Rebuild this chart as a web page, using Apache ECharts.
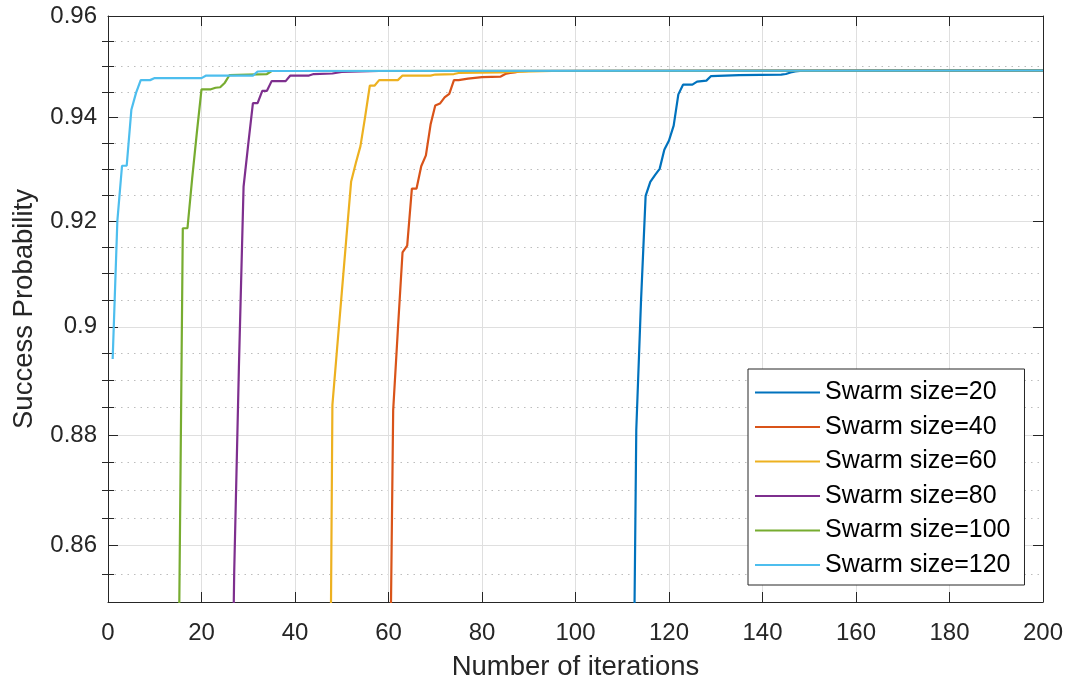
<!DOCTYPE html>
<html><head><meta charset="utf-8">
<script src="https://cdn.jsdelivr.net/npm/echarts@6/dist/echarts.min.js"></script>
<style>html,body{margin:0;padding:0;background:#fff}#c{width:1070px;height:685px}</style>
</head><body><div id="c"></div>
<script>
const seriesNames = ['Swarm size=20','Swarm size=40','Swarm size=60','Swarm size=80','Swarm size=100','Swarm size=120'];
const seriesColors = ['#0072BD','#D95319','#EDB120','#7E2F8E','#77AC30','#4DBEEE'];

const iter20 = [112,113,114,115,116,117,118,119,120,121,122,123,125,126,127,128,129,135,144,145,146,147,148,200];
const prob20 = [0.799,0.8809,0.9045,0.9248,0.9275,0.9288,0.9300,0.9337,0.9355,0.9384,0.9445,0.9464,0.9464,0.9470,0.9471,0.9472,0.9481,0.9483,0.9484,0.9485,0.9488,0.9490,0.9491,0.9492];

const iter40 = [60,61,62,63,64,65,66,67,68,69,70,71,72,73,74,75,77,80,84,85,86,87,88,90,200];
const prob40 = [0.812,0.8845,0.8994,0.9140,0.9153,0.9262,0.9262,0.9305,0.9326,0.9386,0.9423,0.9427,0.9439,0.9446,0.9473,0.9473,0.9476,0.9479,0.9480,0.9485,0.9487,0.9488,0.9490,0.9491,0.9492];

const iter60 = [47,48,49,50,51,52,53,54,55,56,57,58,62,63,69,70,74,75,84,86,95,200];
const prob60 = [0.772,0.8855,0.8959,0.9063,0.9169,0.9275,0.9311,0.9344,0.9401,0.9462,0.9462,0.9473,0.9473,0.9482,0.9482,0.9484,0.9485,0.9487,0.9488,0.9489,0.9491,0.9492];

const iter80 = [26,27,28,29,30,31,32,33,34,35,38,39,43,44,48,50,58,200];
const prob80 = [0.800,0.8555,0.8924,0.9266,0.9348,0.9428,0.9428,0.9452,0.9452,0.9471,0.9471,0.9482,0.9482,0.9485,0.9486,0.9489,0.9491,0.9492];

const iter100 = [15,16,17,18,19,20,22,23,24,25,26,34,35,200];
const prob100 = [0.8276,0.9186,0.9186,0.9281,0.9370,0.9455,0.9455,0.9458,0.9459,0.9468,0.9483,0.9485,0.9491,0.9492];

const iter120 = [1,2,3,4,5,6,7,8,9,10,20,21,31,32,35,200];
const prob120 = [0.894,0.9200,0.9306,0.9306,0.9415,0.9448,0.9473,0.9473,0.9473,0.9477,0.9477,0.9482,0.9482,0.9490,0.9491,0.9492];

const yMajorTicks = [0.86,0.88,0.90,0.92,0.94,0.96];
const yMinorTicks = [0.855,0.865,0.87,0.875,0.885,0.89,0.895,0.905,0.91,0.915,0.925,0.93,0.935,0.945,0.95,0.955];
const xTickStep = 20;

const iters = [iter20, iter40, iter60, iter80, iter100, iter120];
const probs = [prob20, prob40, prob60, prob80, prob100, prob120];

const FONT = 'Liberation Sans';
const AX = '#262626';

function yFmt(v){ return String(+(+v).toFixed(2)); }

function yAxisBase(pos){
  return {type:'log', logBase:10, min:0.85, max:0.96, position:pos};
}

const chart = echarts.init(document.getElementById('c'), null, {renderer:'canvas'});
chart.setOption({
  animation:false,
  backgroundColor:'#fff',
  grid:{left:108, right:27, top:16, bottom:83, containLabel:false, outerBoundsMode:'none'},
  legend:{
    orient:'vertical', left:748, top:369,
    icon:'rect', itemWidth:65, itemHeight:2.2, itemGap:8.5,
    padding:[10.5,14,7,7],
    borderColor:AX, borderWidth:1, backgroundColor:'#fff',
    textStyle:{fontFamily:FONT, fontSize:25, color:'#000', lineHeight:26},
    data: seriesNames
  },
  xAxis:[
    {type:'value', min:0, max:200, interval:xTickStep, position:'bottom',
     name:'Number of iterations', nameLocation:'middle', nameGap:51,
     nameTextStyle:{fontFamily:FONT, fontSize:27.5, color:AX},
     axisLine:{show:true, onZero:false, lineStyle:{color:AX, width:1}},
     axisTick:{show:true, inside:true, length:10, lineStyle:{color:AX}},
     axisLabel:{fontFamily:FONT, fontSize:24, color:AX, margin:19},
     splitLine:{show:true, lineStyle:{color:'#dfdfdf', width:1}}},
    {type:'value', min:0, max:200, interval:xTickStep, position:'top',
     axisLine:{show:true, onZero:false, lineStyle:{color:AX, width:1}},
     axisTick:{show:true, inside:true, length:10, lineStyle:{color:AX}},
     axisLabel:{show:false}, splitLine:{show:false}}
  ],
  yAxis:[
    Object.assign(yAxisBase('left'), {
      name:'Success Probability', nameLocation:'middle', nameGap:70,
      nameTextStyle:{fontFamily:FONT, fontSize:27.5, color:AX},
      axisLine:{show:true, onZero:false, lineStyle:{color:AX, width:1}},
      axisTick:{show:true, inside:true, length:10, customValues:yMajorTicks, lineStyle:{color:AX}},
      axisLabel:{customValues:yMajorTicks, formatter:yFmt, fontFamily:FONT, fontSize:24, color:AX, margin:11},
      splitLine:{show:true, lineStyle:{color:'#dfdfdf', width:1}},
      minorTick:{show:false}, minorSplitLine:{show:false}}),
    Object.assign(yAxisBase('right'), {
      axisLine:{show:true, onZero:false, lineStyle:{color:AX, width:1}},
      axisTick:{show:true, inside:true, length:10, customValues:yMajorTicks, lineStyle:{color:AX}},
      axisLabel:{show:false}, splitLine:{show:false}}),
    Object.assign(yAxisBase('left'), {
      axisLine:{show:false},
      axisTick:{show:true, inside:true, length:6, customValues:yMinorTicks, lineStyle:{color:AX}},
      axisLabel:{show:false},
      splitLine:{show:true, lineStyle:{color:'#bdbdbd', width:1, type:[1.5,5]}}}),
    Object.assign(yAxisBase('right'), {
      axisLine:{show:false},
      axisTick:{show:true, inside:true, length:6, customValues:yMinorTicks, lineStyle:{color:AX}},
      axisLabel:{show:false}, splitLine:{show:false}})
  ],
  series: seriesNames.map((name, k) => ({
    name, type:'line', xAxisIndex:0, yAxisIndex:0,
    data: iters[k].map((x, i) => [x, probs[k][i]]),
    symbol:'none', showSymbol:false, clip:true,
    color: seriesColors[k],
    lineStyle:{color:seriesColors[k], width:2.2},
    emphasis:{disabled:true}
  }))
});
</script></body></html>
